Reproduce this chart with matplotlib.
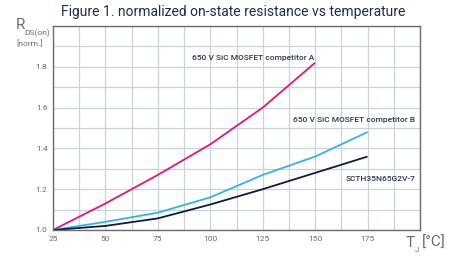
import matplotlib
matplotlib.use('Agg')
import matplotlib.pyplot as plt
from matplotlib.ticker import MultipleLocator

# data
temp_a = [25, 50, 75, 100, 125, 150]
rds_a = [1.0, 1.13, 1.27, 1.42, 1.60, 1.82]
temp_b = [25, 50, 75, 100, 125, 150, 175]
rds_b = [1.0, 1.04, 1.085, 1.16, 1.27, 1.36, 1.48]
temp_st = [25, 50, 75, 100, 125, 150, 175]
rds_st = [1.0, 1.02, 1.057, 1.125, 1.20, 1.28, 1.36]

x_ticks = [25, 50, 75, 100, 125, 150, 175]
y_ticks = [1.0, 1.2, 1.4, 1.6, 1.8]

plt.rcParams['font.family'] = ['Roboto', 'DejaVu Sans']

GRAY = '#6b6b6b'
NAVY = '#0d1c3f'

fig = plt.figure(figsize=(4.57, 2.56), dpi=100)
ax = fig.add_axes([53 / 457, 1 - 230 / 256, 367 / 457, 204 / 256])

ax.plot(temp_a, rds_a, color='#e6137f', linewidth=1.3, solid_capstyle='butt')
ax.plot(temp_b, rds_b, color='#33b3e3', linewidth=1.3, solid_capstyle='butt')
ax.plot(temp_st, rds_st, color=NAVY, linewidth=1.3, solid_capstyle='butt')

ax.set_xlim(25, 200)
ax.set_ylim(1.0, 2.0)
ax.set_xticks(x_ticks)
ax.set_yticks(y_ticks)
ax.set_xticklabels([str(t) for t in x_ticks])
ax.set_yticklabels([f'{v:.1f}' for v in y_ticks])
ax.xaxis.set_minor_locator(MultipleLocator(12.5))
ax.yaxis.set_minor_locator(MultipleLocator(0.1))
ax.grid(True, which='both', color='#c9d3dc', linewidth=0.9)
ax.set_axisbelow(True)
ax.tick_params(which='both', length=0, colors=GRAY, labelsize=6, pad=4)
for s in ax.spines.values():
    s.set_color(GRAY)
    s.set_linewidth(1.0)

# curve labels
lab_kw = dict(fontsize=6, color='#2a3650', fontweight='medium')
ax.text(149.5, 1.845, '650 V SiC MOSFET competitor A', ha='right', va='center', **lab_kw)
ax.text(139.5, 1.537, '650 V SiC MOSFET competitor B', ha='left', va='center', **lab_kw)
ax.text(164.5, 1.25, 'SCTH35N65G2V-7', ha='left', va='center', **lab_kw)

# title and axis labels
fig.text(233 / 457, 1 - 12 / 256, 'Figure 1. normalized on-state resistance vs temperature',
         ha='center', va='center', fontsize=10, color='#1f2d4a')
fig.text(16 / 457, 1 - 25 / 256, 'R', ha='left', va='center', fontsize=11, color=GRAY)
fig.text(24 / 457, 1 - 33 / 256, 'DS(on)', ha='left', va='center', fontsize=6, color=GRAY)
fig.text(16 / 457, 1 - 43 / 256, '[norm.]', ha='left', va='center', fontsize=6, color=GRAY)
fig.text(406 / 457, 1 - 243 / 256, 'T', ha='left', va='center', fontsize=11, color=GRAY)
fig.text(415 / 457, 1 - 250 / 256, 'J', ha='left', va='center', fontsize=5.5, color=GRAY)
fig.text(422 / 457, 1 - 243 / 256, '[°C]', ha='left', va='center', fontsize=11, color=GRAY)

fig.savefig('out.png', dpi=100)
